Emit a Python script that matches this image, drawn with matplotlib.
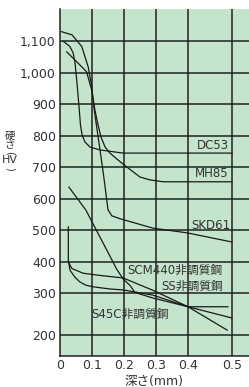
import numpy as np
import matplotlib
matplotlib.use('Agg')
import matplotlib.pyplot as plt

# 硬さ分布のデータ
dc53_x = [0.011, 0.031, 0.041, 0.047, 0.053, 0.059, 0.064, 0.069, 0.078, 0.094, 0.125, 0.197, 0.5]
dc53_y = [1099, 1083, 1063, 1031, 968, 898, 834, 803, 780, 764, 755, 745, 745]

mh85_x = [0.021, 0.05, 0.083, 0.099, 0.109, 0.119, 0.128, 0.141, 0.156, 0.178, 0.197, 0.25, 0.281, 0.322, 0.5]
mh85_y = [1066, 1037, 1003, 945, 882, 834, 796, 764, 745, 726, 710, 669, 660, 654, 654]

skd61_x = [0.005, 0.0375, 0.068, 0.081, 0.088, 0.099, 0.107, 0.116, 0.125, 0.134, 0.141, 0.146, 0.150, 0.162, 0.187, 0.29, 0.397, 0.5]
skd61_y = [1130, 1120, 1083, 1041, 1019, 956, 882, 818, 755, 691, 637, 596, 565, 546, 537, 507, 492, 463]

scm440_x = [0.028, 0.081, 0.117, 0.148, 0.177, 0.198, 0.219, 0.234, 0.29, 0.4, 0.5]
scm440_y = [637, 564, 494, 434, 377, 345, 325, 303, 289, 268, 241]

ss_x = [0.026, 0.026, 0.037, 0.072, 0.125, 0.197, 0.29, 0.4, 0.489]
ss_y = [511, 400, 379, 364, 357, 349, 310, 268, 212]

s45c_x = [0.027, 0.031, 0.047, 0.0625, 0.081, 0.103, 0.156, 0.197, 0.29, 0.4, 0.491]
s45c_y = [399, 374, 351, 336, 326, 321, 314, 311, 296, 268, 268]

xticks = [0, 0.1, 0.2, 0.3, 0.4, 0.5]
xticklabels = ['0', '0.1', '0.2', '0.3', '0.4', '0.5']
yticks = [200, 300, 400, 500, 600, 700, 800, 900, 1000, 1100]
yticklabels = ['200', '300', '400', '500', '600', '700', '800', '900', '1,000', '1,100']

# 軸の目盛り間隔が端だけ広い
kx = 44 / 32
ky = 41.7 / 31.5

def fx(x):
    x = np.asarray(x, dtype=float)
    return np.where(x <= 0.4, x, 0.4 + (x - 0.4) * kx)

def ifx(t):
    t = np.asarray(t, dtype=float)
    return np.where(t <= 0.4, t, 0.4 + (t - 0.4) / kx)

def fy(y):
    y = np.asarray(y, dtype=float)
    return np.where(y >= 300, y, 300 - (300 - y) * ky)

def ify(t):
    t = np.asarray(t, dtype=float)
    return np.where(t >= 300, t, 300 - (300 - t) / ky)

fam = ['DejaVu Sans', 'Noto Sans CJK JP']
txt = '#333333'

fig = plt.figure(figsize=(2.49, 3.87), dpi=100)
ax = fig.add_axes([60 / 249, 31 / 387, 189 / 249, 347 / 387])
ax.set_facecolor('#c4e4cc')
ax.set_xscale('function', functions=(fx, ifx))
ax.set_yscale('function', functions=(fy, ify))
ax.set_xlim(0, 0.5386)
ax.set_ylim(150, 1202)

for v in xticks[1:]:
    ax.axvline(v, color='#222222', lw=1.1, zorder=1)
for v in yticks:
    ax.axhline(v, color='#222222', lw=1.1, zorder=1)

for xs, ys in [(dc53_x, dc53_y), (mh85_x, mh85_y), (skd61_x, skd61_y),
               (scm440_x, scm440_y), (ss_x, ss_y), (s45c_x, s45c_y)]:
    ax.plot(xs, ys, color='#1a1a1a', lw=0.9, zorder=2)

for s in ['top', 'right']:
    ax.spines[s].set_visible(False)
for s in ['left', 'bottom']:
    ax.spines[s].set_color('#222222')
    ax.spines[s].set_linewidth(1.1)

ax.set_xticks(xticks)
ax.set_xticklabels(xticklabels)
ax.set_yticks(yticks)
ax.set_yticklabels(yticklabels)
ax.tick_params(length=0, labelsize=9, colors=txt, pad=3)
ax.tick_params(axis='x', pad=2)
ax.minorticks_off()

lab = dict(fontsize=8.5, color=txt, family=fam, ha='right', va='center', transform=ax.transAxes)
ax.text(0.892, 0.608, 'DC53', **lab)
ax.text(0.894, 0.5245, 'MH85', **lab)
ax.text(0.899, 0.3775, 'SKD61', **lab)
ax.text(0.857, 0.248, 'SCM440非調質鋼', **lab)
ax.text(0.864, 0.1997, 'SS非調質鋼', **lab)
ax.text(0.578, 0.121, 'S45C非調質鋼', **lab)

# 縦書きの軸ラベル「硬さ(HV)」
jp = ['Noto Sans CJK JP', 'DejaVu Sans']
fig.text(10 / 249, 1 - 136 / 387, '硬', fontsize=7.5, color=txt, family=jp, ha='center', va='center')
fig.text(10 / 249, 1 - 145 / 387, 'さ', fontsize=7.5, color=txt, family=jp, ha='center', va='center')
fig.text(10 / 249, 1 - 152.5 / 387, '(', fontsize=7, color=txt, family=fam, ha='center', va='center', rotation=-90)
fig.text(10 / 249, 1 - 160 / 387, 'HV', fontsize=8, color=txt, family=fam, ha='center', va='center')
fig.text(10 / 249, 1 - 168.5 / 387, ')', fontsize=7, color=txt, family=fam, ha='center', va='center', rotation=-90)

fig.text(154 / 249, 1 - 382 / 387, '深さ(mm)', fontsize=9, color=txt,
         family=fam, ha='center', va='center')

fig.savefig('out.png', dpi=100)
